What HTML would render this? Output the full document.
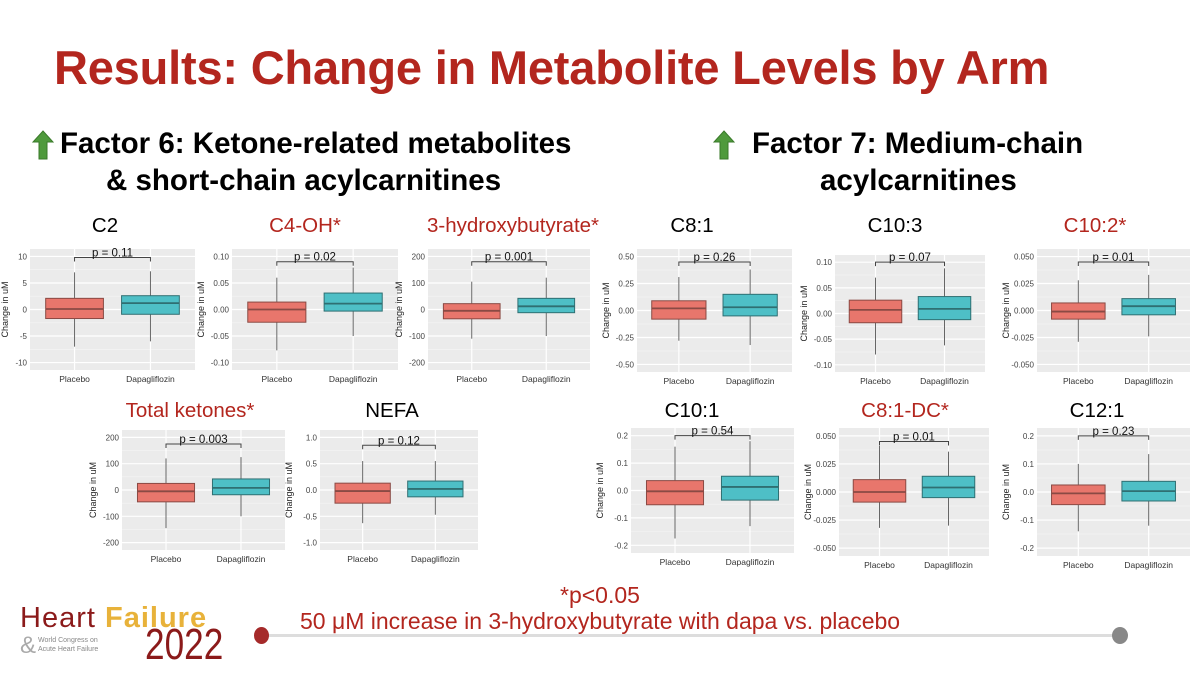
<!DOCTYPE html>
<html><head><meta charset="utf-8">
<style>
body{margin:0;width:1200px;height:673px;background:#fff;overflow:hidden;font-family:"Liberation Sans",sans-serif;position:relative}
.t{position:absolute;white-space:nowrap}
</style></head>
<body>
<div class="t" style="left:54px;top:40px;font-size:47px;font-weight:bold;color:#b3261e;letter-spacing:-0.2px">Results: Change in Metabolite Levels by Arm</div>

<svg style="position:absolute;left:32px;top:130px" width="22" height="30"><polygon points="11,1 21,12 15,12 15,29 7,29 7,12 1,12" fill="#4f9a3c" stroke="#3a7a2a"/></svg>
<div class="t" style="left:60px;top:127px;font-size:29.5px;font-weight:bold">Factor 6: Ketone-related metabolites</div>
<div class="t" style="left:106px;top:164px;font-size:29.5px;font-weight:bold">&amp; short-chain acylcarnitines</div>
<svg style="position:absolute;left:713px;top:130px" width="22" height="30"><polygon points="11,1 21,12 15,12 15,29 7,29 7,12 1,12" fill="#4f9a3c" stroke="#3a7a2a"/></svg>
<div class="t" style="left:752px;top:127px;font-size:29.5px;font-weight:bold">Factor 7: Medium-chain</div>
<div class="t" style="left:820px;top:164px;font-size:29.5px;font-weight:bold">acylcarnitines</div>

<svg id="charts" style="position:absolute;left:0;top:0" width="1200" height="673"></svg>

<div class="t" style="left:560px;top:582px;font-size:23px;color:#b3261e">*p&lt;0.05</div>
<div class="t" style="left:300px;top:608px;font-size:23px;color:#b3261e">50 μM increase in 3-hydroxybutyrate with <span style="border-bottom:1px dotted #d33">dapa</span> vs. placebo</div>
<div style="position:absolute;left:262px;top:634px;width:858px;height:3px;background:#ddd"></div>
<div style="position:absolute;left:254px;top:627px;width:15px;height:17px;border-radius:50%;background:#a52a2a"></div>
<div style="position:absolute;left:1112px;top:627px;width:16px;height:17px;border-radius:50%;background:#888"></div>
<div class="t" style="left:20px;top:602px;font-size:29px;color:#8b1a1a;letter-spacing:1px">Heart <span style="color:#e8b23a;font-weight:bold">Failure</span></div>
<div class="t" style="left:20px;top:632px;font-size:24px;color:#aaa">&amp;</div>
<div class="t" style="left:38px;top:636px;font-size:7px;color:#888;line-height:9px">World Congress on<br>Acute Heart Failure</div>
<div class="t" style="left:145px;top:620px;font-size:44px;color:#8b1a1a;transform:scaleX(0.8);transform-origin:left">2022</div>

<script>
const panelNames=["C2","C4-OH","3-hydroxybutyrate","C8:1","C10:3","C10:2","Total ketones","NEFA","C10:1","C8:1-DC","C12:1"];
const panelTitles=["C2","C4-OH*","3-hydroxybutyrate*","C8:1","C10:3","C10:2*","Total ketones*","NEFA","C10:1","C8:1-DC*","C12:1"];
const significant=[false,true,true,false,false,true,true,false,false,true,false];
const groups=["Placebo","Dapagliflozin"];
const pLabels=["p = 0.11","p = 0.02","p = 0.001","p = 0.26","p = 0.07","p = 0.01","p = 0.003","p = 0.12","p = 0.54","p = 0.01","p = 0.23"];
const tickLabels=[
 ["10","5","0","-5","-10"],["0.10","0.05","0.00","-0.05","-0.10"],["200","100","0","-100","-200"],
 ["0.50","0.25","0.00","-0.25","-0.50"],["0.10","0.05","0.00","-0.05","-0.10"],["0.050","0.025","0.000","-0.025","-0.050"],
 ["200","100","0","-100","-200"],["1.0","0.5","0.0","-0.5","-1.0"],["0.2","0.1","0.0","-0.1","-0.2"],
 ["0.050","0.025","0.000","-0.025","-0.050"],["0.2","0.1","0.0","-0.1","-0.2"]];
// [low whisker, q1, median, q3, high whisker]
const placeboStats=[[-7,-1.7,0.1,2.1,7],[-0.077,-0.024,0,0.014,0.06],[-110,-35,-5,22,105],[-0.28,-0.08,0.02,0.09,0.31],[-0.08,-0.018,0.007,0.026,0.07],[-0.029,-0.008,-0.001,0.007,0.028],[-145,-45,-5,25,120],[-0.63,-0.25,-0.02,0.13,0.55],[-0.175,-0.052,-0.003,0.036,0.16],[-0.032,-0.009,0,0.011,0.041],[-0.14,-0.045,-0.005,0.025,0.1]];
const dapaStats=[[-6,-0.9,1.2,2.6,7.2],[-0.05,-0.003,0.011,0.031,0.079],[-100,-12,12,42,120],[-0.32,-0.05,0.03,0.15,0.38],[-0.062,-0.012,0.009,0.033,0.088],[-0.024,-0.004,0.004,0.011,0.033],[-100,-18,8,42,125],[-0.47,-0.13,0.02,0.17,0.55],[-0.13,-0.035,0.013,0.052,0.18],[-0.03,-0.005,0.004,0.014,0.036],[-0.12,-0.032,0.003,0.038,0.135]];
const bracketValues=[9.8,0.09,180,0.45,0.1,0.045,175,0.85,0.2,0.045,0.2];

// layout (pixel boxes) - not data
const boxes=[[30,195,249,370],[232,398,249,370],[428,590,249,370],[637,792,249,372],[835,985,255,372],[1037,1190,249,372],[122,285,430,550],[320,478,430,550],[631,794,428,553],[839,989,428,556],[1037,1190,428,556]];
const titleX=[105,305,513,692,895,1095,190,392,692,905,1097];

const NS="http://www.w3.org/2000/svg";
const svg=document.getElementById('charts');
function mk(tag,attrs,parent){const e=document.createElementNS(NS,tag);for(const k in attrs)e.setAttribute(k,attrs[k]);(parent||svg).appendChild(e);return e;}

panelNames.forEach((name,i)=>{
  const [x0,x1,y0,y1]=boxes[i];
  const ticks=tickLabels[i].map(Number);
  const tmax=Math.max(...ticks),tmin=Math.min(...ticks);
  const pad=(tmax-tmin)*0.07;
  const dmax=tmax+pad,dmin=tmin-pad;
  const yS=v=>y1-(v-dmin)/(dmax-dmin)*(y1-y0);
  const w=x1-x0;
  const xS=k=>x0+w*(k===0?0.27:0.73);
  const bw=w*0.35;
  const g=mk('g',{});
  
  
  const title=mk('text',{x:titleX[i],y:i<6?232:417,'text-anchor':'middle','font-size':20.5,fill:significant[i]?'#b3261e':'#000'},g);
  title.textContent=panelTitles[i];
  
  
  const bg=mk('rect',{x:x0,y:y0,width:w,height:y1-y0,fill:'#ebebeb'},g);
  
  
  for(let j=0;j<ticks.length-1;j++){const m=(ticks[j]+ticks[j+1])/2;mk('line',{x1:x0,x2:x1,y1:yS(m),y2:yS(m),stroke:'#f5f5f5','stroke-width':0.6},g);}
  ticks.forEach((t,j)=>{
    const y=yS(t);
    const gl=mk('line',{x1:x0,x2:x1,y1:y,y2:y,stroke:'#fff','stroke-width':1.2},g);
    
    
    const tl=mk('text',{x:x0-3,y:y+3,'text-anchor':'end','font-size':8,fill:'#444'},g);
    tl.textContent=tickLabels[i][j];
    
    
  });
  [0,1].forEach(k=>mk('line',{x1:xS(k),x2:xS(k),y1:y0,y2:y1,stroke:'#fff','stroke-width':1.2},g));
  const yt=mk('text',{transform:`translate(${x0-(i===2||i===6?26:x0<40?22:28)},${(y0+y1)/2}) rotate(-90)`,'text-anchor':'middle','font-size':9,fill:'#222'},g);
  yt.textContent='Change in uM';
  
  
  [placeboStats[i],dapaStats[i]].forEach((s,k)=>{
    const cx=xS(k);
    const col=k===0?'#e8766c':'#4ebfc6';
    const bc=k===0?'#8a4a44':'#2f6f72';
    const wl=mk('line',{x1:cx,x2:cx,y1:yS(s[0]),y2:yS(s[4]),stroke:'#666','stroke-width':1},g);
    
    
    const r=mk('rect',{x:cx-bw/2,y:yS(s[3]),width:bw,height:yS(s[1])-yS(s[3]),fill:col,stroke:bc,'stroke-width':1},g);
    
    
    const md=mk('line',{x1:cx-bw/2,x2:cx+bw/2,y1:yS(s[2]),y2:yS(s[2]),stroke:bc,'stroke-width':1.8},g);
    
    
    const xl=mk('text',{x:cx,y:y1+12,'text-anchor':'middle','font-size':8.5,fill:'#333'},g);
    xl.textContent=groups[k];
    
    
  });
  const by=yS(bracketValues[i]);
  const br=mk('path',{d:`M${xS(0)},${by+4}V${by}H${xS(1)}V${by+4}`,fill:'none',stroke:'#444','stroke-width':1},g);
  
  
  const pt=mk('text',{x:(xS(0)+xS(1))/2,y:by-1,'text-anchor':'middle','font-size':11.5,fill:'#111'},g);
  pt.textContent=pLabels[i];
  
  
});
</script>
</body></html>
